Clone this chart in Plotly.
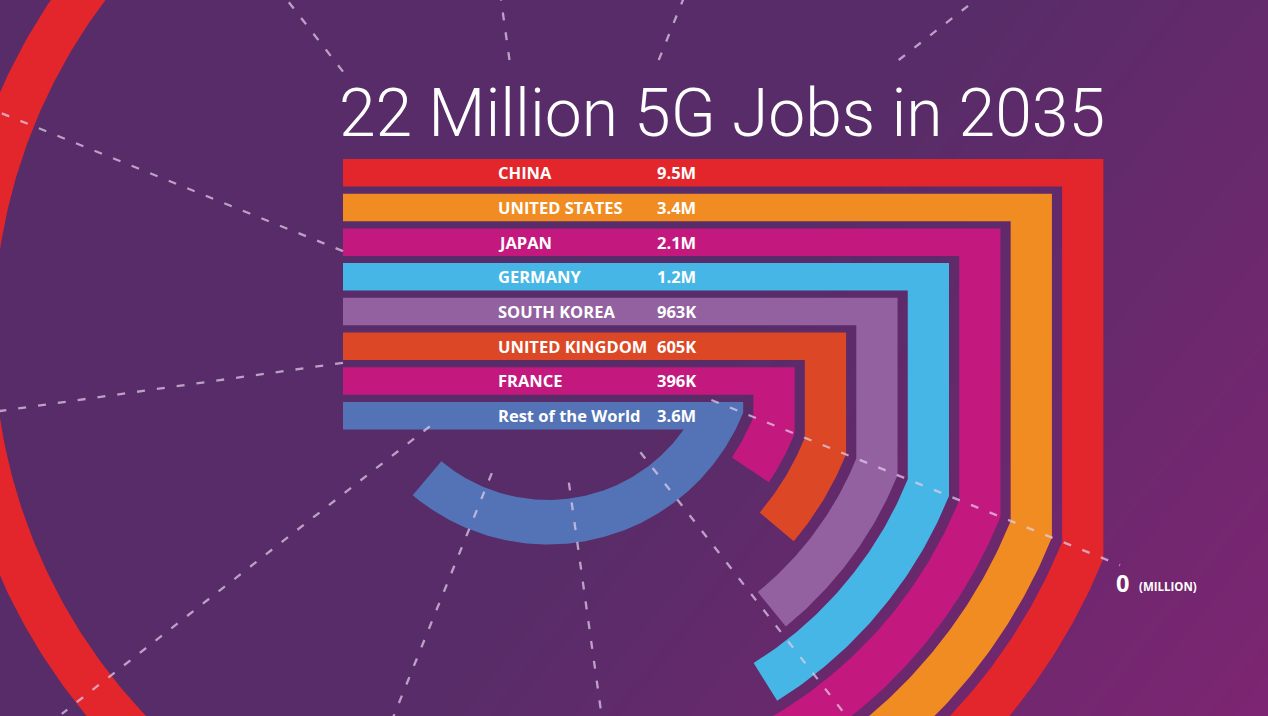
import math
import numpy as np
import plotly.graph_objects as go

# ---------------- data ----------------
COUNTRIES = ["CHINA", "UNITED STATES", "JAPAN", "GERMANY", "SOUTH KOREA",
             "UNITED KINGDOM", "FRANCE", "Rest of the World"]
JOBS_M = [9.5, 3.4, 2.1, 1.2, 0.963, 0.605, 0.396, 3.6]
VALUE_LABELS = ["9.5M", "3.4M", "2.1M", "1.2M", "963K", "605K", "396K", "3.6M"]
COLORS = ["#e3262b", "#f18c22", "#c3197e", "#45b6e5", "#9360a0",
          "#dc4826", "#c3197e", "#5473b7"]
TICKS_M = [0, 1, 2, 3, 4, 5, 6, 7, 8, 9, 10]
TICK_LABELS = ["0", "1", "2", "3", "4", "5", "6", "7", "8", "9", "10"]
AXIS_UNIT = "(MILLION)"
TITLE = "22 Million 5G Jobs in 2035"

# ---------------- geometry / style ----------------
W, H = 1268, 716
CX, CY = 548.0, 334.0          # centre of the radial scale
A0 = 22.0                      # angle (deg, screen, clockwise) of the zero line
DEG_PER_M = 30.0               # degrees per million jobs
R_OUT0, R_STEP, THICK = 599.0, 55.5, 44.5
BAR_X0, BAR_Y0, BAR_PITCH, BAR_H = 343.0, 159.0, 34.7, 27.5
LABEL_X, VALUE_X = 496.0, 655.0
RAY_R0, RAY_R1 = 150.0, 617.0
PANEL = (343.0, 1101.0, 60.0, 400.0)   # region where the guide rays are hidden
BG0, BG1 = "#582c68", "#7d2572"
FONT_B = "Open Sans"
FONT_T = "Roboto"


def pt(r, a_deg):
    a = math.radians(a_deg)
    return CX + r * math.cos(a), CY + r * math.sin(a)


def edge_angle(r, y_edge):
    """Angle where the circle of radius r meets the horizontal y_edge,
    or the zero line if the circle's zero-line point lies below it."""
    y0 = CY + r * math.sin(math.radians(A0))
    if y0 >= y_edge:
        return A0
    return math.degrees(math.asin((y_edge - CY) / r))


fig = go.Figure()

# background gradient
gx = np.linspace(0, W, 33)
gy = np.linspace(0, H, 19)
GX, GY = np.meshgrid(gx, gy)
GZ = np.clip((GX + 0.8 * GY - 1000.0) / 840.0, 0, 1)
fig.add_trace(go.Heatmap(x=gx, y=gy, z=GZ, zsmooth="best", showscale=False,
                         colorscale=[[0, BG0], [1, BG1]], hoverinfo="skip"))

# bars: horizontal leg -> vertical leg -> arc whose sweep encodes the value
for i, (name, v, col) in enumerate(zip(COUNTRIES, JOBS_M, COLORS)):
    r_o = R_OUT0 - R_STEP * i
    r_i = r_o - THICK
    y_top = BAR_Y0 + BAR_PITCH * i
    y_bot = y_top + BAR_H
    a_end = A0 + DEG_PER_M * v
    s_o = edge_angle(r_o, y_top)
    s_b = edge_angle(r_i, y_bot)

    px, py = [BAR_X0, pt(r_o, s_o)[0]], [y_top, y_top]
    n = max(8, int(abs(a_end - s_o) * 2))
    for a in np.linspace(s_o, a_end, n):
        x, y = pt(r_o, a)
        px.append(x); py.append(y)
    n = max(8, int(abs(a_end - s_b) * 2))
    for a in np.linspace(a_end, s_b, n):
        x, y = pt(r_i, a)
        px.append(x); py.append(y)
    if s_b == A0:
        px.append(pt(r_i, A0)[0]); py.append(y_bot)
    px += [BAR_X0, BAR_X0]; py += [y_bot, y_top]
    fig.add_trace(go.Scatter(x=px, y=py, mode="lines", fill="toself",
                             fillcolor=col, line=dict(width=0, color=col),
                             hoverinfo="skip", showlegend=False))

# guide rays (dashed), hidden inside the label panel
def panel_interval(a_deg):
    a = math.radians(a_deg)
    d = (math.cos(a), math.sin(a))
    t0, t1 = -1e9, 1e9
    for p, dd, lo, hi in ((CX, d[0], PANEL[0], PANEL[1]),
                          (CY, d[1], PANEL[2], PANEL[3])):
        if abs(dd) < 1e-9:
            if p < lo or p > hi:
                return None
        else:
            ta, tb = (lo - p) / dd, (hi - p) / dd
            t0 = max(t0, min(ta, tb))
            t1 = min(t1, max(ta, tb))
    return (t0, t1) if t0 < t1 else None


rx, ry = [], []
for k in TICKS_M:
    a = A0 + DEG_PER_M * k
    segs = [(RAY_R0, RAY_R1)]
    iv = panel_interval(a)
    if iv:
        new = []
        for s0, s1 in segs:
            if iv[0] > s0:
                new.append((s0, min(s1, iv[0])))
            if iv[1] < s1:
                new.append((max(s0, iv[1]), s1))
        segs = [s for s in new if s[1] - s[0] > 1]
    for s0, s1 in segs:
        x0, y0 = pt(s0, a)
        x1, y1 = pt(s1, a)
        rx += [x0, x1, None]
        ry += [y0, y1, None]
fig.add_trace(go.Scatter(x=rx, y=ry, mode="lines",
                         line=dict(color="rgba(226,206,236,0.72)", width=2.3,
                                   dash="8px,12px"),
                         hoverinfo="skip", showlegend=False))

annotations = []
# country labels & values
for i, (name, lab) in enumerate(zip(COUNTRIES, VALUE_LABELS)):
    yc = BAR_Y0 + BAR_PITCH * i + BAR_H / 2
    for xx, txt in ((LABEL_X, name), (VALUE_X, lab)):
        annotations.append(dict(x=xx, y=yc, xref="x", yref="y", text=txt,
                                showarrow=False, xanchor="left", yanchor="middle",
                                font=dict(family=FONT_B, size=16.5, color="white",
                                          weight=700)))

# tick labels at the outer end of each ray (only those that fall on the canvas)
for k, lab in zip(TICKS_M, TICK_LABELS):
    a = A0 + DEG_PER_M * k
    x, y = pt(RAY_R1, a)
    lx, ly = x - 6, y + 18
    if not (0 <= lx <= W - 20 and 10 <= ly <= H - 12):
        continue
    annotations.append(dict(x=lx, y=ly, xref="x", yref="y", text=lab,
                            showarrow=False, xanchor="left", yanchor="middle",
                            font=dict(family=FONT_B, size=23.5, color="white",
                                      weight=700)))
    if k == 0:
        annotations.append(dict(x=lx + 23, y=ly + 3, xref="x", yref="y",
                                text=AXIS_UNIT, showarrow=False,
                                xanchor="left", yanchor="middle",
                                font=dict(family=FONT_B, size=11.5,
                                          color="white", weight=700)))

# title
annotations.append(dict(x=BAR_X0 - 6, y=113, xref="x", yref="y", text=TITLE,
                        showarrow=False, xanchor="left", yanchor="middle",
                        font=dict(family=FONT_T, size=66, color="white",
                                  weight=300)))

fig.update_layout(
    width=W, height=H, margin=dict(l=0, r=0, t=0, b=0),
    paper_bgcolor=BG0, plot_bgcolor=BG0, showlegend=False,
    xaxis=dict(range=[0, W], visible=False, fixedrange=True),
    yaxis=dict(range=[H, 0], visible=False, fixedrange=True),
    annotations=annotations,
)

fig.write_html("out.html", config={"displayModeBar": False},
               post_script="document.body.style.margin='0';"
                           "document.body.style.padding='0';"
                           "document.body.style.overflow='hidden';")
